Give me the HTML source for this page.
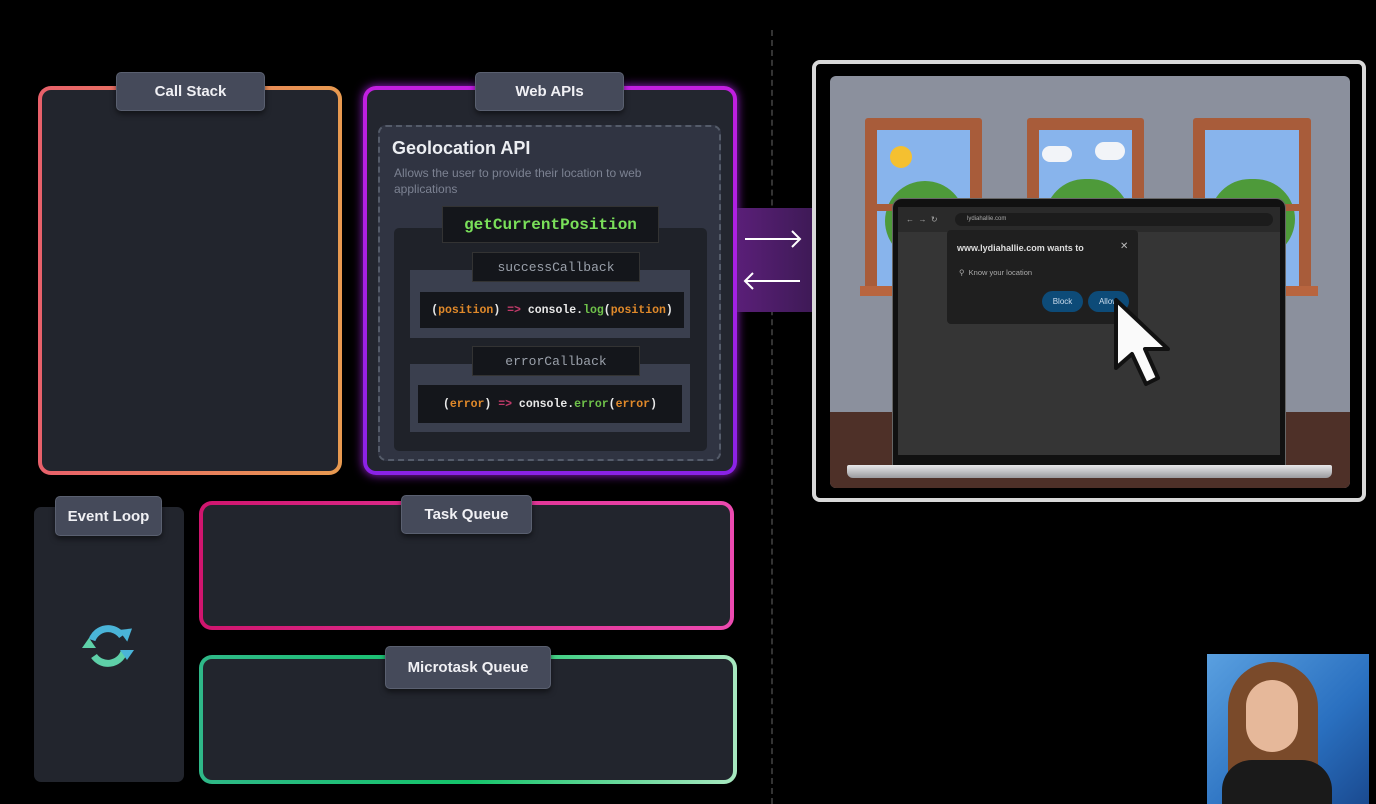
<!DOCTYPE html>
<html><head><meta charset="utf-8"><style>
*{box-sizing:border-box;margin:0;padding:0}
body{width:1376px;height:804px;background:#000;position:relative;overflow:hidden;font-family:"Liberation Sans",sans-serif;color:#e8e8ee}
.a{position:absolute}
.gb{position:absolute;border-radius:13px;padding:4px}
.gb>div{width:100%;height:100%;background:#22252d;border-radius:9px}
.tab{position:absolute;background:#454a5a;border:1px solid #5a6070;border-radius:5px;color:#f0f0f4;font-size:15px;font-weight:bold;display:flex;align-items:center;justify-content:center;box-shadow:0 3px 6px rgba(0,0,0,.5)}
.mono{font-family:"Liberation Mono",monospace}
.code{position:absolute;background:#14161b;display:flex;align-items:center;justify-content:center;font-size:11.5px;color:#e8e8e8;font-weight:bold}
.o{color:#e0892a}.p{color:#c23a6a}.g{color:#6fc24a}
</style></head><body>

<div class="a" style="left:771px;top:30px;width:0;height:774px;border-left:2px dashed #333"></div>

<div class="gb" style="left:38px;top:86px;width:304px;height:389px;background:linear-gradient(90deg,#e8606a,#e89a50)"><div></div></div>
<div class="tab" style="left:116px;top:72px;width:149px;height:39px">Call Stack</div>

<div class="gb" style="left:363px;top:86px;width:374px;height:389px;background:linear-gradient(180deg,#c21fe0,#8a22e6);box-shadow:0 0 10px #9a20d0"><div style="background:#23262f"></div></div>
<div class="tab" style="left:475px;top:72px;width:149px;height:39px">Web APIs</div>
<div class="a" style="left:378px;top:125px;width:343px;height:336px;border:2px dashed #555c6a;border-radius:8px;background:#303442"></div>
<div class="a" style="left:392px;top:138px;font-size:18px;font-weight:bold;color:#eceef2">Geolocation API</div>
<div class="a" style="left:394px;top:165px;width:310px;font-size:12px;line-height:16px;color:#7c8292">Allows the user to provide their location to web applications</div>
<div class="a" style="left:394px;top:228px;width:313px;height:223px;background:#1f2229;border-radius:5px"></div>
<div class="code mono" style="left:442px;top:206px;width:217px;height:37px;border:1px solid #333;font-size:16px;color:#7ae05a">getCurrentPosition</div>
<div class="a" style="left:410px;top:270px;width:280px;height:68px;background:#3a3f4e"></div>
<div class="code mono" style="left:472px;top:252px;width:168px;height:30px;color:#9aa0aa;font-weight:normal;font-size:13px;border:1px solid #333">successCallback</div>
<div class="code mono" style="left:420px;top:292px;width:264px;height:36px">(<span class="o">position</span>)&nbsp;<span class="p">=&gt;</span>&nbsp;console.<span class="g">log</span>(<span class="o">position</span>)</div>
<div class="a" style="left:410px;top:364px;width:280px;height:68px;background:#3a3f4e"></div>
<div class="code mono" style="left:472px;top:346px;width:168px;height:30px;color:#9aa0aa;font-weight:normal;font-size:13px;border:1px solid #333">errorCallback</div>
<div class="code mono" style="left:418px;top:385px;width:264px;height:38px">(<span class="o">error</span>)&nbsp;<span class="p">=&gt;</span>&nbsp;console.<span class="g">error</span>(<span class="o">error</span>)</div>

<div class="a" style="left:737px;top:208px;width:76px;height:104px;background:linear-gradient(90deg,#5a1f78,#3e1a56)"></div>
<svg class="a" style="left:740px;top:225px" width="65" height="70"><g stroke="#fff" stroke-width="2" fill="none"><path d="M5 14H60M52 6L60 14L52 22"/><path d="M60 56H5M13 48L5 56L13 64"/></g></svg>

<div class="a" style="left:812px;top:60px;width:554px;height:442px;border:4px solid #d8d8d8;border-radius:8px;background:#000"></div>
<div class="a" style="left:830px;top:76px;width:520px;height:412px;background:#8b909d;border-radius:6px;overflow:hidden">
  <div class="a" style="left:0;top:336px;width:520px;height:76px;background:#4e3028"></div>
  <div class="a" style="left:35px;top:42px;width:117px;height:178px;background:#a85c3a;border-radius:3px"></div>
  <div class="a" style="left:47px;top:54px;width:93px;height:156px;background:#88b4ec"></div>
  <div class="a" style="left:197px;top:42px;width:117px;height:178px;background:#a85c3a;border-radius:3px"></div>
  <div class="a" style="left:209px;top:54px;width:93px;height:156px;background:#88b4ec"></div>
  <div class="a" style="left:363px;top:42px;width:118px;height:178px;background:#a85c3a;border-radius:3px"></div>
  <div class="a" style="left:375px;top:54px;width:94px;height:156px;background:#88b4ec"></div>
  <div class="a" style="left:60px;top:70px;width:22px;height:22px;border-radius:50%;background:#f5c030"></div>
  <div class="a" style="left:212px;top:70px;width:30px;height:16px;border-radius:8px;background:#f2f4f8"></div>
  <div class="a" style="left:265px;top:66px;width:30px;height:18px;border-radius:9px;background:#f2f4f8"></div>
  <div class="a" style="left:55px;top:105px;width:80px;height:80px;border-radius:40px;background:#4e9a3a"></div>
  <div class="a" style="left:215px;top:103px;width:85px;height:80px;border-radius:40px;background:#4e9a3a"></div>
  <div class="a" style="left:380px;top:103px;width:85px;height:80px;border-radius:40px;background:#4e9a3a"></div>
  <div class="a" style="left:47px;top:128px;width:93px;height:7px;background:#a85c3a"></div>
  <div class="a" style="left:209px;top:128px;width:93px;height:7px;background:#a85c3a"></div>
  <div class="a" style="left:375px;top:128px;width:94px;height:7px;background:#a85c3a"></div>
  <div class="a" style="left:30px;top:210px;width:128px;height:10px;background:#b8653f"></div>
  <div class="a" style="left:192px;top:210px;width:128px;height:10px;background:#b8653f"></div>
  <div class="a" style="left:358px;top:210px;width:130px;height:10px;background:#b8653f"></div>
</div>
<div class="a" style="left:892px;top:198px;width:394px;height:268px;background:#111;border-radius:10px 10px 0 0;border:1px solid #666"></div>
<div class="a" style="left:898px;top:207px;width:382px;height:248px;background:#353535"></div>
<div class="a" style="left:898px;top:207px;width:382px;height:25px;background:#2a2a2a"></div>
<div class="a" style="left:906px;top:215px;font-size:8px;color:#aaa">←&nbsp;&nbsp;→&nbsp;&nbsp;↻</div>
<div class="a" style="left:955px;top:213px;width:318px;height:13px;border-radius:7px;background:#1c1c1c;font-size:6px;color:#aaa;padding:3px 0 0 12px">lydiahallie.com</div>
<div class="a" style="left:947px;top:230px;width:191px;height:94px;background:#1f1f1f;border-radius:4px"></div>
<div class="a" style="left:957px;top:243px;font-size:9px;font-weight:bold;color:#ddd">www.lydiahallie.com wants to</div>
<div class="a" style="left:1120px;top:241px;font-size:10px;color:#bbb">✕</div>
<div class="a" style="left:959px;top:268px;font-size:7.5px;color:#aaa">⚲&nbsp;&nbsp;Know your location</div>
<div class="a" style="left:1042px;top:291px;width:41px;height:21px;border-radius:11px;background:#0d4b78;font-size:8px;color:#cde;display:flex;align-items:center;justify-content:center">Block</div>
<div class="a" style="left:1088px;top:291px;width:41px;height:21px;border-radius:11px;background:#0d4b78;font-size:8px;color:#cde;display:flex;align-items:center;justify-content:center">Allow</div>
<div class="a" style="left:847px;top:465px;width:485px;height:13px;background:linear-gradient(#e8e8ea,#9a9a9e);border-radius:2px 2px 6px 6px"></div>
<svg class="a" style="left:1110px;top:296px" width="65" height="95"><path d="M6 4L6 72L22 58L36 88L48 82L35 53L58 53Z" fill="#fafafa" stroke="#111" stroke-width="4" stroke-linejoin="round"/></svg>

<div class="a" style="left:34px;top:507px;width:150px;height:275px;background:#22252d;border-radius:7px"></div>
<div class="tab" style="left:55px;top:496px;width:107px;height:40px">Event Loop</div>
<svg class="a" style="left:78px;top:618px" width="60" height="56"><g fill="none" stroke-width="7"><path d="M14 22A17 17 0 0 1 44 18" stroke="#4ab4d8"/><path d="M46 34A17 17 0 0 1 16 38" stroke="#5ed0a8"/></g><path d="M40 14L52 22L52 8Z" fill="#4ab4d8" transform="rotate(20 46 15)"/><path d="M4 30L18 30L11 20Z" fill="#5ed0a8"/><path d="M42 32L56 32L49 42Z" fill="#4ab4d8"/></svg>

<div class="gb" style="left:199px;top:501px;width:535px;height:129px;background:linear-gradient(90deg,#d0156e,#ec4ab0)"><div></div></div>
<div class="tab" style="left:401px;top:495px;width:131px;height:39px">Task Queue</div>

<div class="gb" style="left:199px;top:655px;width:538px;height:129px;background:linear-gradient(90deg,#2fb888,#14c46a 50%,#a8e8c0)"><div></div></div>
<div class="tab" style="left:385px;top:646px;width:166px;height:43px">Microtask Queue</div>

<div class="a" style="left:1207px;top:654px;width:162px;height:150px;background:linear-gradient(135deg,#5aa0e0,#2a70c0 60%,#1a4a90)"></div>
<div class="a" style="left:1228px;top:662px;width:90px;height:142px;border-radius:45px 45px 10px 10px;background:#7a4a2a"></div>
<div class="a" style="left:1246px;top:680px;width:52px;height:72px;border-radius:26px;background:#e6b89a"></div>
<div class="a" style="left:1222px;top:760px;width:110px;height:44px;border-radius:30px 30px 0 0;background:#1a1a1a"></div>
</body></html>
